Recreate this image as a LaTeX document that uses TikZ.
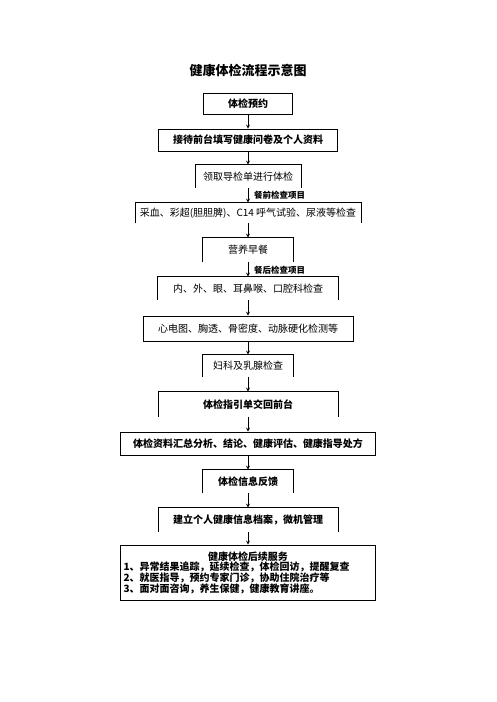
\documentclass[tikz,border=0pt]{standalone}
\usepackage{fontspec}
\setmainfont{Noto Sans CJK SC}
\usepackage{tikz}
\usetikzlibrary{arrows,positioning}
\tikzstyle{box} = [
    rectangle, text centered,
    inner sep=0pt,
    line width=0.8pt,
    font=\fontsize{10pt}{12pt}\selectfont,
]
\tikzstyle{stage} = [
    box,
    draw=black,
]
\tikzstyle{openstage} = [
    box,
]
\tikzstyle{strong} = [
    font=\fontsize{10pt}{12pt}\selectfont\bfseries,
]
\tikzstyle{note} = [
    anchor=west, inner sep=0pt,
    font=\fontsize{8.5pt}{10pt}\selectfont\bfseries,
]
\tikzstyle{edge} = [line width=0.8pt]
\tikzstyle{arrow} = [->,>=stealth,line width=0.8pt]

\begin{document}
\begin{tikzpicture}[x=1pt,y=-1pt]
    \useasboundingbox (0,0) rectangle (496,702);

    % title
    \node (title) at (248,70) [font=\fontsize{13pt}{15pt}\selectfont\bfseries] {健康体检流程示意图};

    % boxes
    \node (b1) at (248,103.5) [stage,strong,minimum width=89pt,minimum height=21pt] {体检预约};
    \node (b2) at (248,140) [stage,strong,minimum width=179pt,minimum height=22pt] {接待前台填写健康问卷及个人资料};
    \node (b3) at (248,176.5) [openstage,minimum width=105pt,minimum height=23pt] {领取导检单进行体检};
    \node (b4) at (248,213) [openstage,minimum width=225pt,minimum height=20pt] {采血、彩超(胆胆脾)、C14 呼气试验、尿液等检查};
    \node (b5) at (248,250) [openstage,minimum width=90pt,minimum height=24pt] {营养早餐};
    \node (b6) at (248,288.5) [openstage,minimum width=180pt,minimum height=23pt] {内、外、眼、耳鼻喉、口腔科检查};
    \node (b7) at (248,328.5) [stage,minimum width=210pt,minimum height=25pt] {心电图、胸透、骨密度、动脉硬化检测等};
    \node (b8) at (248,366) [openstage,minimum width=90pt,minimum height=22pt] {妇科及乳腺检查};
    \node (b9) at (248,404.5) [openstage,strong,minimum width=179pt,minimum height=25pt] {体检指引单交回前台};
    \node (b10) at (248,443.5) [stage,strong,minimum width=255pt,minimum height=23pt] {体检资料汇总分析、结论、健康评估、健康指导处方};
    \node (b11) at (248,481.5) [openstage,strong,minimum width=90pt,minimum height=23pt] {体检信息反馈};
    \node (b12) at (248,520) [openstage,strong,minimum width=179pt,minimum height=24pt] {建立个人健康信息档案，微机管理};
    \node (b13) at (248,572.5) [stage,strong,minimum width=255pt,minimum height=55pt,
        inner xsep=3pt,text width=249pt,align=left,
        font=\fontsize{10pt}{10.7pt}\selectfont\bfseries] {%
        \makebox[249pt]{健康体检后续服务}\\
        1、异常结果追踪，延续检查，体检回访，提醒复查\\
        2、就医指导，预约专家门诊，协助住院治疗等\\
        3、面对面咨询，养生保健，健康教育讲座。};

    % labels
    \node (pre) at (254,195) [note] {餐前检查项目};
    \node (post) at (254,270) [note] {餐后检查项目};

    % open boxes
    \foreach \n in {b3,b4,b5,b6,b8,b9,b11,b12} {
        \draw [edge] (\n.south west) |- (\n.north east) -- (\n.south east);
    }

    % arrows
    \foreach \x [evaluate=\x as \y using int(\x+1)] in {1,...,12} {
        \draw [arrow] (b\x.south) to (b\y.north);
    }

\end{tikzpicture}
\end{document}
